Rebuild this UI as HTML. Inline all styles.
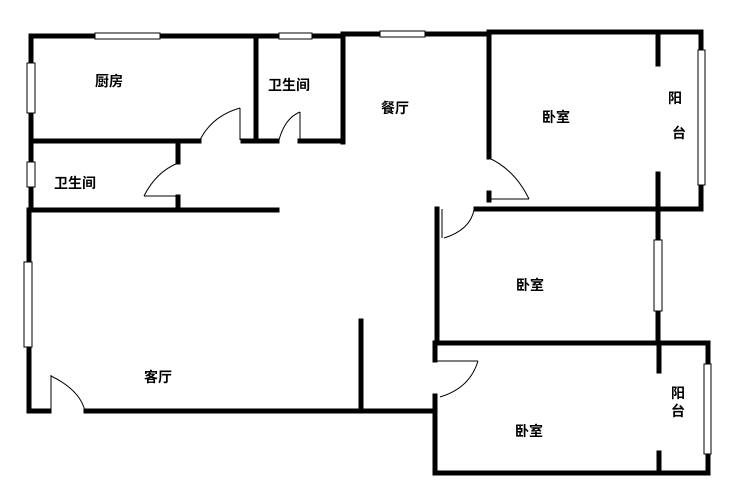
<!DOCTYPE html>
<html><head><meta charset="utf-8"><style>
html,body{margin:0;padding:0;background:#fff;width:732px;height:485px;overflow:hidden}
svg text{font-family:"Liberation Sans","Noto Sans CJK SC",sans-serif;font-size:14px;font-weight:bold;fill:#000}
</style></head><body>
<svg width="732" height="485" viewBox="0 0 732 485" xmlns="http://www.w3.org/2000/svg">
<g stroke="#000" stroke-width="5" fill="none" stroke-linecap="square">
<!-- top walls -->
<line x1="31" y1="36" x2="343" y2="36"/>
<line x1="343" y1="34" x2="489" y2="34"/>
<line x1="489" y1="32" x2="701" y2="32"/>
<!-- left outer -->
<line x1="31" y1="36" x2="31" y2="210"/>
<line x1="29" y1="210" x2="29" y2="411"/>
<!-- kitchen bottom -->
<line x1="31" y1="141" x2="199" y2="141"/>
<line x1="243" y1="141" x2="277" y2="141"/>
<line x1="300" y1="141" x2="343" y2="141"/>
<line x1="256" y1="36" x2="256" y2="141"/>
<line x1="343" y1="34" x2="343" y2="142"/>
<!-- bath lower -->
<line x1="178" y1="141" x2="178" y2="162"/>
<line x1="178" y1="197" x2="178" y2="210"/>
<line x1="29" y1="210" x2="277" y2="210"/>
<!-- bedroom 1 -->
<line x1="489" y1="34" x2="489" y2="157"/>
<line x1="489" y1="193" x2="489" y2="200"/>
<line x1="476" y1="209" x2="701" y2="209"/>
<line x1="701" y1="32" x2="701" y2="209"/>
<line x1="658" y1="34" x2="658" y2="64"/>
<line x1="658" y1="174" x2="658" y2="209"/>
<!-- middle bedroom -->
<line x1="437" y1="209" x2="437" y2="342"/>
<line x1="658" y1="209" x2="658" y2="343"/>
<!-- lower bedroom -->
<line x1="435" y1="343" x2="708" y2="343"/>
<line x1="435" y1="343" x2="435" y2="360"/>
<line x1="435" y1="396" x2="435" y2="473"/>
<line x1="435" y1="473" x2="708" y2="473"/>
<line x1="708" y1="343" x2="708" y2="473"/>
<line x1="659" y1="343" x2="659" y2="371"/>
<line x1="659" y1="453" x2="659" y2="473"/>
<!-- living -->
<line x1="29" y1="411" x2="49" y2="411"/>
<line x1="86" y1="411" x2="435" y2="411"/>
<line x1="361" y1="321" x2="361" y2="411"/>
</g>
<!-- windows -->
<g fill="#fff" stroke="#000" stroke-width="1">
<rect x="95" y="33" width="65" height="6"/>
<rect x="279" y="33" width="33" height="6"/>
<rect x="380" y="31" width="45" height="6"/>
<rect x="27" y="63" width="8" height="50"/>
<rect x="27" y="162" width="8" height="25"/>
<rect x="24" y="262" width="8" height="85"/>
<rect x="698" y="50" width="7" height="135"/>
<rect x="654" y="240" width="8" height="71"/>
<rect x="704" y="364" width="7" height="90"/>
</g>
<!-- doors -->
<g stroke="#000" stroke-width="1" fill="none">
<line x1="240" y1="108" x2="240" y2="140"/>
<path d="M200,140 Q212,116 240,108"/>
<line x1="300" y1="112" x2="300" y2="140"/>
<path d="M279,140 Q285,118 300,112"/>
<line x1="144" y1="196" x2="178" y2="196"/>
<path d="M144,196 Q156,172 178,163"/>
<line x1="489" y1="199" x2="529" y2="199"/>
<path d="M489,158 Q515,170 529,199"/>
<line x1="442" y1="209" x2="442" y2="238"/>
<path d="M444,238 Q470,230 474,210"/>
<line x1="435" y1="361" x2="478" y2="361"/>
<path d="M478,361 Q470,388 440,397"/>
<line x1="51" y1="375" x2="51" y2="411"/>
<path d="M51,376 Q80,390 85,411"/>
</g>
<text x="95" y="86">厨房</text>
<text x="268" y="90">卫生间</text>
<text x="54" y="188">卫生间</text>
<text x="381" y="113">餐厅</text>
<text x="542" y="122">卧室</text>
<text x="668" y="103">阳</text>
<text x="672" y="138">台</text>
<text x="516" y="290">卧室</text>
<text x="144" y="382">客厅</text>
<text x="515" y="436">卧室</text>
<text x="671" y="398">阳</text>
<text x="671" y="416">台</text>
</svg>
</body></html>
